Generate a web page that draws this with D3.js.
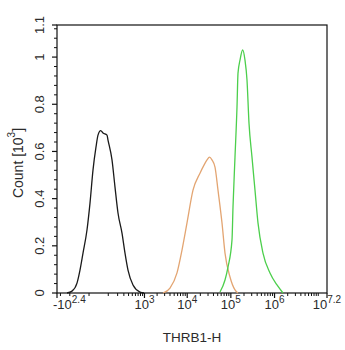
<!DOCTYPE html>
<html>
<head>
<meta charset="utf-8">
<script src="https://cdn.jsdelivr.net/npm/d3@7"></script>
<style>
  html, body { margin: 0; padding: 0; background: #fff; }
  svg { display: block; }
  text { font-family: "Liberation Sans", Arial, sans-serif; fill: #2b2b2b; }
</style>
</head>
<body>
<svg id="chart" width="345" height="350"></svg>
<script>
// ---- data (intensity on THRB1-H, count in 10^3) ----
const blackX = [-125, -82.8, -50.5, -34.8, -21.3, -6.5, 2.96, 13.2, 25.3, 34.4, 48.4, 61.9, 89.8, 97.8, 134.1, 166.8, 205.1, 266.6, 322, 386.9, 520.6, 778, 974];
const blackY = [0, 0.008, 0.042, 0.097, 0.169, 0.267, 0.381, 0.521, 0.619, 0.669, 0.688, 0.678, 0.669, 0.648, 0.564, 0.449, 0.339, 0.254, 0.169, 0.097, 0.034, 0.004, 0];

const orangeX = [2748, 3999, 5809, 7576, 9878, 13567, 19643, 24260, 28440, 32440, 37000, 43355, 50780, 62700, 73480, 95600, 124450, 145750];
const orangeY = [0, 0.021, 0.085, 0.182, 0.297, 0.436, 0.508, 0.542, 0.564, 0.576, 0.564, 0.534, 0.436, 0.297, 0.169, 0.068, 0.013, 0];

const greenX = [56420, 73480, 86000, 106260, 112000, 124450, 138300, 145750, 161940, 186800, 210700, 234200, 260200, 304700, 356900, 417900, 543900, 786500, 1137400, 1561200];
const greenY = [0.004, 0.055, 0.110, 0.225, 0.364, 0.576, 0.788, 0.932, 0.987, 1.030, 0.987, 0.903, 0.720, 0.576, 0.436, 0.297, 0.169, 0.085, 0.034, 0];

const xMajorTicks = [-Math.pow(10, 2.4), 1e3, 1e4, 1e5, 1e6, Math.pow(10, 7.2)];
const xMajorLabels = [["-10", "2.4"], ["10", "3"], ["10", "4"], ["10", "5"], ["10", "6"], ["10", "7.2"]];
const xMinorTicks = [-200, -100, 0, 100, 200, 300, 400, 500, 600, 700, 800, 900,
  2e3, 3e3, 4e3, 5e3, 6e3, 7e3, 8e3, 9e3,
  2e4, 3e4, 4e4, 5e4, 6e4, 7e4, 8e4, 9e4,
  2e5, 3e5, 4e5, 5e5, 6e5, 7e5, 8e5, 9e5,
  2e6, 3e6, 4e6, 5e6, 6e6, 7e6, 8e6, 9e6, 1e7];
const yMax = 1.136;
const yMajorTicks = [0, 0.2, 0.4, 0.6, 0.8, 1, yMax];
const yMajorLabels = ["0", "0.2", "0.4", "0.6", "0.8", "1", "1.1"];
const yMinorTicks = [0.04, 0.08, 0.12, 0.16, 0.24, 0.28, 0.32, 0.36, 0.44, 0.48, 0.52, 0.56,
  0.64, 0.68, 0.72, 0.76, 0.84, 0.88, 0.92, 0.96, 1.04, 1.08, 1.12];

const xTitle = "THRB1-H";

// ---- layout ----
const L = 57, R = 327, T = 25, B = 293;
const svg = d3.select("#chart");

const x = d3.scaleSymlog().constant(57)
  .domain([xMajorTicks[0], xMajorTicks[xMajorTicks.length - 1]])
  .range([L, R]);
const y = d3.scaleLinear().domain([0, yMax]).range([B, T]);

// frame
svg.append("rect").attr("x", L).attr("y", T).attr("width", R - L).attr("height", B - T)
  .attr("fill", "none").attr("stroke", "#111").attr("stroke-width", 1.2);

// y ticks
const yAx = svg.append("g");
yAx.selectAll("line.maj").data(yMajorTicks).join("line")
  .attr("x1", L - 5).attr("x2", L).attr("y1", d => y(d)).attr("y2", d => y(d))
  .attr("stroke", "#111").attr("stroke-width", 1.2);
yAx.selectAll("line.min").data(yMinorTicks).join("line")
  .attr("x1", L - 3).attr("x2", L).attr("y1", d => y(d)).attr("y2", d => y(d))
  .attr("stroke", "#111").attr("stroke-width", 1);
yAx.selectAll("text").data(yMajorTicks).join("text")
  .attr("transform", d => `translate(39,${y(d)}) rotate(-90)`)
  .attr("text-anchor", "middle").attr("dy", "0.35em")
  .attr("font-size", 13)
  .text((d, i) => yMajorLabels[i]);

// y title
const yt = svg.append("text")
  .attr("transform", `translate(18,163) rotate(-90)`)
  .attr("text-anchor", "middle").attr("dy", "0.35em").attr("font-size", 14);
yt.append("tspan").text("Count  [10");
yt.append("tspan").attr("font-size", 10).attr("dy", "-0.8em").text("3");
yt.append("tspan").attr("dy", "0.55em").text("]");

// x ticks
const xAx = svg.append("g");
xAx.selectAll("line.maj").data(xMajorTicks).join("line")
  .attr("x1", d => x(d)).attr("x2", d => x(d)).attr("y1", B).attr("y2", B + 5)
  .attr("stroke", "#111").attr("stroke-width", 1.2);
xAx.selectAll("line.min").data(xMinorTicks).join("line")
  .attr("x1", d => x(d)).attr("x2", d => x(d)).attr("y1", B).attr("y2", B + 3)
  .attr("stroke", "#111").attr("stroke-width", 1);
xAx.selectAll("text").data(xMajorTicks).join("text")
  .attr("x", (d, i) => i === 0 ? x(d) - 4 : x(d))
  .attr("y", 309)
  .attr("text-anchor", (d, i) => i === 0 ? "start" : "middle")
  .attr("font-size", 13)
  .each(function (d, i) {
    const t = d3.select(this);
    t.append("tspan").text(xMajorLabels[i][0]);
    t.append("tspan").attr("font-size", 10).attr("dy", -6).text(xMajorLabels[i][1]);
  });

svg.append("text").attr("x", (L + R) / 2).attr("y", 342).attr("text-anchor", "middle")
  .attr("font-size", 13.5).text(xTitle);

// curves
const line = d3.line().x(d => x(d[0])).y(d => y(d[1])).curve(d3.curveMonotoneX);
const series = [
  { xs: blackX, ys: blackY, color: "#1a1a1a" },
  { xs: orangeX, ys: orangeY, color: "#e3a572" },
  { xs: greenX, ys: greenY, color: "#4ccf4c" }
];
svg.append("g").selectAll("path").data(series).join("path")
  .attr("d", s => line(s.xs.map((v, i) => [v, s.ys[i]])))
  .attr("fill", "none").attr("stroke", s => s.color).attr("stroke-width", 1.3);
</script>
</body>
</html>
